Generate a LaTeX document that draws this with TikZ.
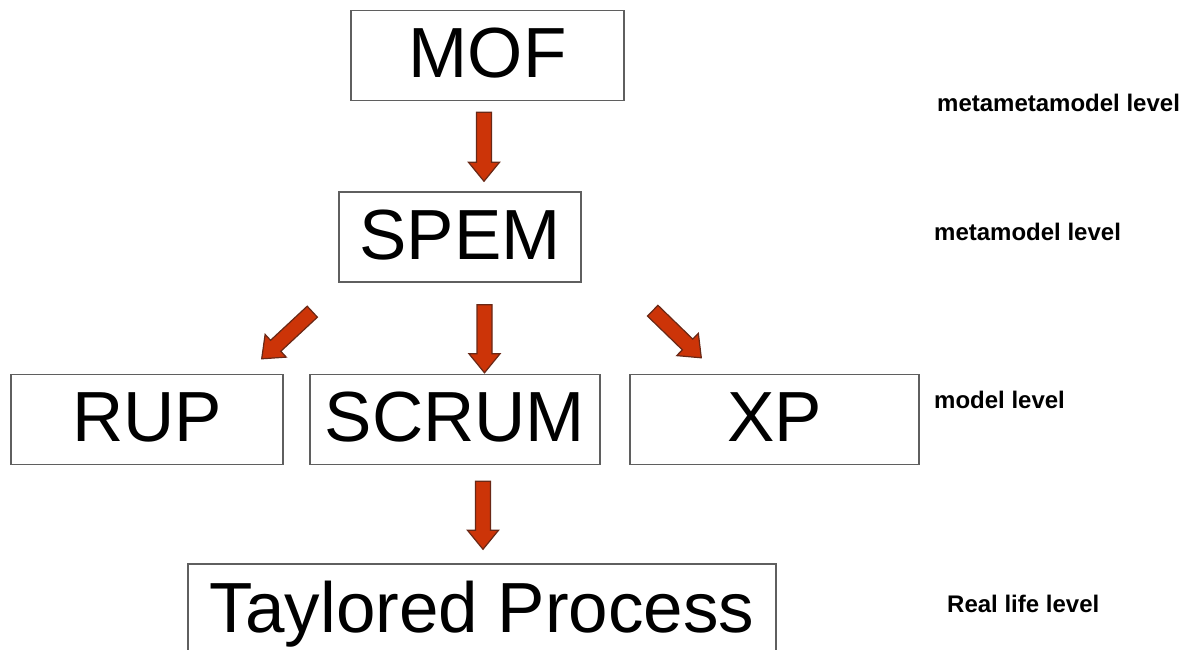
\documentclass[tikz,border=0pt]{standalone}
\usepackage{fontspec}
\setmainfont{Liberation Sans}
\usetikzlibrary{calc}
\definecolor{arrowfill}{RGB}{204,52,8}
\definecolor{arrowline}{RGB}{105,40,22}
\definecolor{boxline}{RGB}{95,95,95}
\tikzset{%
  modelbox/.style   = {shape=rectangle, draw=boxline, line width=1.4pt,%
                       minimum height=90pt, inner sep=0pt,%
                       font=\fontsize{71}{80}\selectfont,%
                       text height=52pt, text depth=8pt},%
  levellabel/.style = {anchor=west, inner sep=0pt,%
                       font=\bfseries\fontsize{24}{28}\selectfont},%
  blockarrow/.style = {draw=arrowline, fill=arrowfill, line width=1.2pt,%
     to path={let \p1=(\tikztostart), \p2=(\tikztotarget),%
       \n1={atan2(\y2-\y1,\x2-\x1)}, \n2={veclen(\x2-\x1,\y2-\y1)},%
       \n3={\n2-19} in%
       ($(\p1)+(\n1+90:7.5)$) -- ($(\p1)+(\n1:\n3)+(\n1+90:7.5)$)%
       -- ($(\p1)+(\n1:\n3)+(\n1+90:15.5)$) -- (\p2)%
       -- ($(\p1)+(\n1:\n3)+(\n1-90:15.5)$) -- ($(\p1)+(\n1:\n3)+(\n1-90:7.5)$)%
       -- ($(\p1)+(\n1-90:7.5)$) -- cycle}}%
}

\begin{document}
\begin{tikzpicture}[x=1pt,y=1pt]
	\useasboundingbox (0,0) rectangle (1195,-650);
	% levels
	\node [modelbox, minimum width=273pt] (mof) at (487.5,-55.5) {MOF};
	\node [modelbox, minimum width=242pt] (spem) at (460,-237) {SPEM};
	\node [modelbox, minimum width=272pt] (rup) at (147,-419.5) {RUP};
	\node [modelbox, minimum width=290pt] (scrum) at (455,-419.5) {SCRUM};
	\node [modelbox, minimum width=289pt] (xp) at (774.5,-419.5) {XP};
	\node [modelbox, minimum width=588pt, minimum height=92pt] (tailored) at (482,-610) {Taylored Process};
	% arrows
	\draw [blockarrow] ([xshift=-3.5pt,yshift=-11pt]mof.south) to ([xshift=24pt,yshift=10pt]spem.north);
	\draw [blockarrow] ([xshift=24.5pt,yshift=-22pt]spem.south) to ([xshift=29.5pt,yshift=1pt]scrum.north);
	\draw [blockarrow] ([xshift=-26pt,yshift=-29pt]spem.south west) to ([xshift=-22pt,yshift=15pt]rup.north east);
	\draw [blockarrow] ([xshift=71pt,yshift=-28pt]spem.south east) to ([xshift=72pt,yshift=16pt]xp.north west);
	\draw [blockarrow] ([xshift=28pt,yshift=-16pt]scrum.south) to ([xshift=1pt,yshift=14pt]tailored.north);
	% labels
	\node [levellabel] (l0) at (937,-103) {metametamodel level};
	\node [levellabel] (l1) at (934,-232) {metamodel level};
	\node [levellabel] (l2) at (934,-400) {model level};
	\node [levellabel] (l3) at (947,-604) {Real life level};
\end{tikzpicture}
\end{document}
